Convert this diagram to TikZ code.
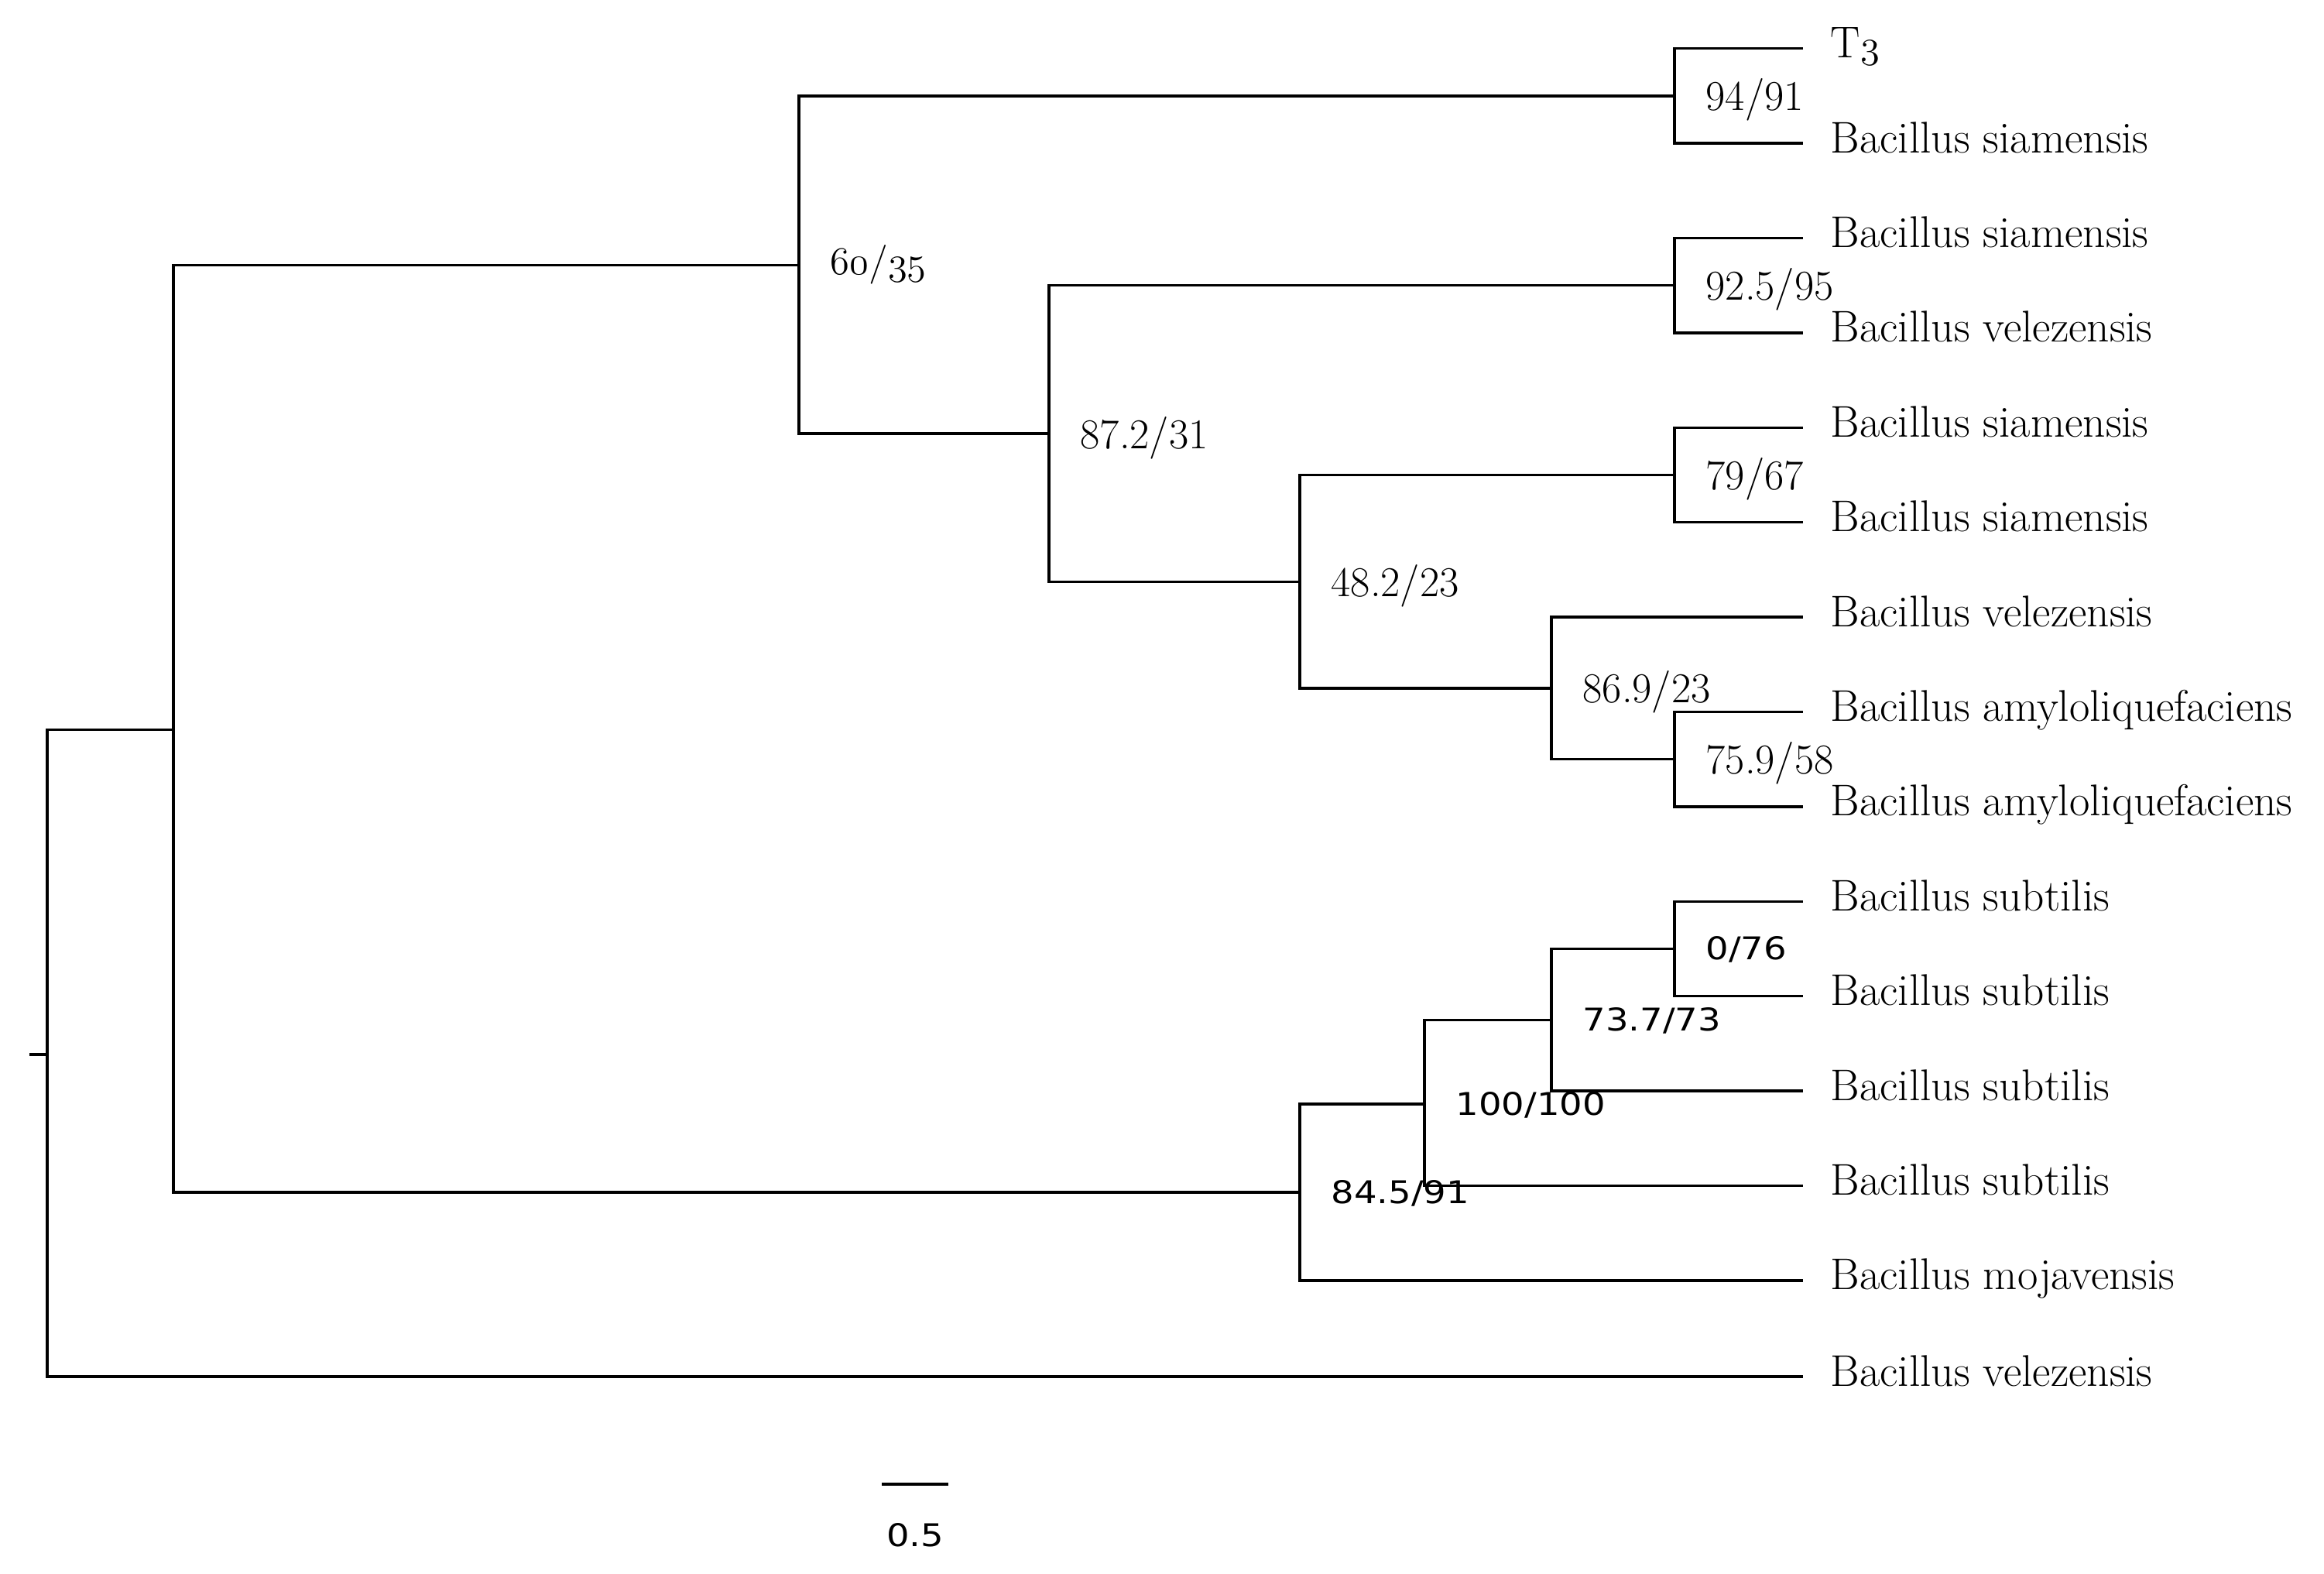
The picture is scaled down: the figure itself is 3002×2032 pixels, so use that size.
\documentclass[tikz,border=0pt]{standalone}
\usepackage{fontspec}
\usetikzlibrary{calc}
\newfontfamily\sansnum[FakeStretch=1.15]{DejaVu Sans}
\newcommand\osn[1]{{\usefont{OML}{cmm}{m}{it}#1}}
\begin{document}
\begin{tikzpicture}[x=0.01cm,y=-0.01cm,
  br/.style={line width=0.95pt, line join=miter},
  taxon/.style={anchor=base west, inner sep=0pt, font=\fontsize{16.3}{19}\selectfont},
  suplab/.style={anchor=base west, inner sep=0pt, font=\fontsize{15.6}{18}\selectfont},
  supsans/.style={anchor=base west, inner sep=0pt, font=\sansnum\fontsize{11.5}{14}\selectfont}]
\useasboundingbox (0,0) rectangle (3002,2032);
% tips
\coordinate (t0) at (2329,62.7);
\coordinate (t1) at (2329,185.1);
\coordinate (t2) at (2329,307.5);
\coordinate (t3) at (2329,429.9);
\coordinate (t4) at (2329,552.3);
\coordinate (t5) at (2329,674.7);
\coordinate (t6) at (2329,797.1);
\coordinate (t7) at (2329,919.5);
\coordinate (t8) at (2329,1041.9);
\coordinate (t9) at (2329,1164.3);
\coordinate (t10) at (2329,1286.7);
\coordinate (t11) at (2329,1409.1);
\coordinate (t12) at (2329,1531.5);
\coordinate (t13) at (2329,1653.9);
\coordinate (t14) at (2329,1778.0);
% internal nodes
\coordinate (n1) at (2163,123.9);
\coordinate (n2) at (2163,368.7);
\coordinate (n3) at (2163,613.5);
\coordinate (n4) at (2163,980.7);
\coordinate (n5) at (2004,888.9);
\coordinate (n6) at (1679,751.2);
\coordinate (n7) at (1355,560.0);
\coordinate (n8) at (1032,342.5);
\coordinate (n9) at (2163,1225.5);
\coordinate (n10) at (2004,1317.3);
\coordinate (n11) at (1840,1426.0);
\coordinate (n12) at (1679,1540.0);
\coordinate (nA) at (224,942.5);
\coordinate (root) at (61,1362);
\coordinate (tick) at (38,1362);
% branches
\draw[br] (n1) |- (t0); \draw[br] (n1) |- (t1);
\draw[br] (n2) |- (t2); \draw[br] (n2) |- (t3);
\draw[br] (n3) |- (t4); \draw[br] (n3) |- (t5);
\draw[br] (n4) |- (t7); \draw[br] (n4) |- (t8);
\draw[br] (n5) |- (t6); \draw[br] (n5) |- (n4);
\draw[br] (n6) |- (n3); \draw[br] (n6) |- (n5);
\draw[br] (n7) |- (n2); \draw[br] (n7) |- (n6);
\draw[br] (n8) |- (n1); \draw[br] (n8) |- (n7);
\draw[br] (n9) |- (t9); \draw[br] (n9) |- (t10);
\draw[br] (n10) |- (n9); \draw[br] (n10) |- (t11);
\draw[br] (n11) |- (n10); \draw[br] (n11) |- (t12);
\draw[br] (n12) |- (n11); \draw[br] (n12) |- (t13);
\draw[br] (nA) |- (n8); \draw[br] (nA) |- (n12);
\draw[br] (root) |- (nA); \draw[br] (root) |- (t14);
\draw[br] (tick) -- (root);
% taxa
\node[taxon] (L0) at ($(t0)+(35,12)$) {T{\fontsize{14.4}{17}\selectfont\osn{3}}};
\node[taxon] (L1) at ($(t1)+(35,12)$) {Bacillus siamensis};
\node[taxon] (L2) at ($(t2)+(35,12)$) {Bacillus siamensis};
\node[taxon] (L3) at ($(t3)+(35,12)$) {Bacillus velezensis};
\node[taxon] (L4) at ($(t4)+(35,12)$) {Bacillus siamensis};
\node[taxon] (L5) at ($(t5)+(35,12)$) {Bacillus siamensis};
\node[taxon] (L6) at ($(t6)+(35,12)$) {Bacillus velezensis};
\node[taxon] (L7) at ($(t7)+(35,12)$) {Bacillus amyloliquefaciens};
\node[taxon] (L8) at ($(t8)+(35,12)$) {Bacillus amyloliquefaciens};
\node[taxon] (L9) at ($(t9)+(35,12)$) {Bacillus subtilis};
\node[taxon] (L10) at ($(t10)+(35,12)$) {Bacillus subtilis};
\node[taxon] (L11) at ($(t11)+(35,12)$) {Bacillus subtilis};
\node[taxon] (L12) at ($(t12)+(35,12)$) {Bacillus subtilis};
\node[taxon] (L13) at ($(t13)+(35,12)$) {Bacillus mojavensis};
\node[taxon] (L14) at ($(t14)+(35,12)$) {Bacillus velezensis};
% support values
\node[suplab] (s1) at ($(n1)+(40,19)$) {94/91};
\node[suplab] (s2) at ($(n2)+(40,19)$) {92.5/95};
\node[suplab] (s3) at ($(n3)+(40,19)$) {79/67};
\node[suplab] (s4) at ($(n4)+(40,19)$) {75.9/58};
\node[suplab] (s5) at ($(n5)+(40,19)$) {86.9/23};
\node[suplab] (s6) at ($(n6)+(40,19)$) {48.2/23};
\node[suplab] (s7) at ($(n7)+(40,19)$) {87.2/31};
\node[suplab] (s8) at ($(n8)+(40,12)$) {\fontsize{14.4}{17}\selectfont\osn{60}/\osn{35}};
\node[supsans] (s9) at ($(n9)+(40,14)$) {0/76};
\node[supsans] (s10) at ($(n10)+(40,14)$) {73.7/73};
\node[supsans] (s11) at ($(n11)+(40,14)$) {100/100};
\node[supsans] (s12) at ($(n12)+(40,14)$) {84.5/91};
% scale bar
\coordinate (sbL) at (1139,1917);
\coordinate (sbR) at (1225,1917);
\draw[br] (sbL) -- (sbR);
\node[supsans, anchor=center] (sbT) at (1182,1983) {0.5};
\end{tikzpicture}
\end{document}
